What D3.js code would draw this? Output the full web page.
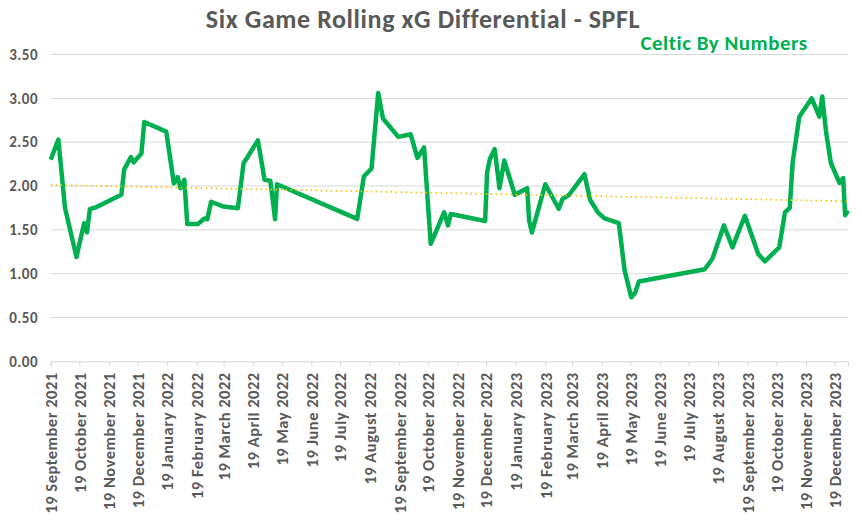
<!DOCTYPE html>
<html>
<head>
<meta charset="utf-8">
<script src="https://cdn.jsdelivr.net/npm/d3@7"></script>
<style>
  body { margin: 0; background: #fff; }
  text { font-family: Carlito, Calibri, Lato, "Open Sans", sans-serif; }
</style>
</head>
<body>
<div id="chart"></div>
<script>
// Match dates and six game rolling xG differential
const dates = ["2021-09-19","2021-09-27","2021-10-04","2021-10-16","2021-10-24","2021-10-27","2021-10-30","2021-11-06","2021-12-02","2021-12-05",
  "2021-12-12","2021-12-15","2021-12-23","2021-12-26","2022-01-18","2022-01-26","2022-01-30","2022-02-02","2022-02-06","2022-02-09",
  "2022-02-20","2022-02-27","2022-03-02","2022-03-06","2022-03-19","2022-04-03","2022-04-09","2022-04-24","2022-05-01","2022-05-07",
  "2022-05-12","2022-05-14","2022-08-06","2022-08-13","2022-08-21","2022-08-28","2022-09-02","2022-09-18","2022-10-01","2022-10-08",
  "2022-10-15","2022-10-22","2022-11-05","2022-11-09","2022-11-12","2022-12-18","2022-12-20","2022-12-23","2022-12-28","2023-01-02",
  "2023-01-07","2023-01-18","2023-01-31","2023-02-02","2023-02-05","2023-02-19","2023-03-05","2023-03-09","2023-03-16","2023-04-01",
  "2023-04-07","2023-04-15","2023-04-22","2023-05-07","2023-05-13","2023-05-20","2023-05-24","2023-05-28","2023-08-05","2023-08-13",
  "2023-08-25","2023-09-03","2023-09-16","2023-09-30","2023-10-07","2023-10-22","2023-10-28","2023-11-02","2023-11-05","2023-11-12",
  "2023-11-25","2023-12-03","2023-12-06","2023-12-10","2023-12-15","2023-12-24","2023-12-28","2023-12-30","2024-01-02"];
const xgDiff = [2.30,2.53,1.75,1.19,1.575,1.47,1.735,1.76,1.90,2.19,
  2.33,2.27,2.37,2.73,2.62,2.03,2.10,1.975,2.07,1.565,
  1.565,1.63,1.62,1.82,1.765,1.745,2.26,2.52,2.07,2.06,
  1.62,2.02,1.625,2.11,2.20,3.06,2.77,2.56,2.59,2.32,
  2.44,1.34,1.70,1.55,1.68,1.60,2.15,2.31,2.42,1.975,
  2.29,1.90,1.975,1.61,1.47,2.02,1.74,1.85,1.90,2.135,
  1.84,1.70,1.63,1.575,1.04,0.73,0.78,0.91,1.05,1.17,
  1.55,1.30,1.66,1.225,1.14,1.30,1.70,1.75,2.265,2.79,
  3.00,2.79,3.02,2.62,2.265,2.035,2.09,1.665,1.72];
const yTicks = [0, 0.5, 1, 1.5, 2, 2.5, 3, 3.5];
const firstTick = "2021-09-19";
const tickCount = 28;

const parse = d3.timeParse("%Y-%m-%d");
const data = dates.map((d, i) => ({date: parse(d), value: xgDiff[i]}));

const W = 862, H = 520;
const margin = {top: 54.5, right: 14, bottom: 158.7, left: 50.7};

const svg = d3.select("#chart").append("svg")
    .attr("width", W)
    .attr("height", H);

svg.append("rect").attr("width", W).attr("height", H).attr("fill", "#fff");

const x = d3.scaleTime()
    .domain(d3.extent(data, d => d.date))
    .range([margin.left, W - margin.right]);
const y = d3.scaleLinear()
    .domain([0, 3.5])
    .range([H - margin.bottom, margin.top]);

// gridlines
svg.append("g")
  .selectAll("line")
  .data(yTicks.slice(1))
  .join("line")
    .attr("x1", x.range()[0]).attr("x2", x.range()[1])
    .attr("y1", d => y(d)).attr("y2", d => y(d))
    .attr("stroke", "#d9d9d9").attr("stroke-width", 1);

// y labels
svg.append("g")
  .selectAll("text")
  .data(yTicks)
  .join("text")
    .attr("x", 38)
    .attr("y", d => y(d))
    .attr("dy", "0.35em")
    .attr("text-anchor", "end")
    .style("font-size", "15px")
    .style("letter-spacing", "0.5px")
    .style("font-weight", "bold")
    .style("fill", "#595959")
    .text(d => d.toFixed(2));

// x axis
const tickDates = d3.range(tickCount).map(i => d3.timeMonth.offset(parse(firstTick), i));
const xAxis = svg.append("g")
    .attr("transform", `translate(0,${y(0)})`)
    .call(d3.axisBottom(x)
      .tickValues(tickDates)
      .tickSize(5)
      .tickFormat(d3.timeFormat("%-d %B %Y")));
xAxis.select(".domain").attr("stroke", "#d9d9d9");
xAxis.selectAll(".tick line").attr("stroke", "#d9d9d9");
xAxis.selectAll(".tick text")
    .attr("transform", "rotate(-90)")
    .attr("x", -11)
    .attr("y", 0)
    .attr("dy", "0.35em")
    .attr("text-anchor", "end")
    .style("font-family", "Carlito, Calibri, Lato, sans-serif")
    .style("font-size", "16.5px")
    .style("letter-spacing", "0.5px")
    .style("font-weight", "bold")
    .style("fill", "#595959");

// linear trendline (least squares over the series)
const xs = data.map(d => +d.date), ys = data.map(d => d.value);
const mx = d3.mean(xs), my = d3.mean(ys);
const slope = d3.sum(xs, (v, i) => (v - mx) * (ys[i] - my)) / d3.sum(xs, v => (v - mx) * (v - mx));
const trend = x.domain().map(d => ({date: d, value: my + slope * (+d - mx)}));

// series line
svg.append("path")
    .datum(data)
    .attr("fill", "none")
    .attr("stroke", "#00b050")
    .attr("stroke-width", 4.5)
    .attr("stroke-linejoin", "round")
    .attr("d", d3.line().x(d => x(d.date)).y(d => y(d.value)));

svg.append("path")
    .datum(trend)
    .attr("fill", "none")
    .attr("stroke", "#ffc000")
    .attr("stroke-width", 1.75)
    .attr("stroke-dasharray", "1.5 3.5")
    .attr("d", d3.line().x(d => x(d.date)).y(d => y(d.value)));

// title
svg.append("text")
    .attr("x", 423)
    .attr("y", 28)
    .attr("text-anchor", "middle")
    .style("font-size", "26px")
    .style("letter-spacing", "0.6px")
    .style("font-weight", "bold")
    .style("fill", "#595959")
    .text("Six Game Rolling xG Differential - SPFL");

svg.append("text")
    .attr("x", 724)
    .attr("y", 50)
    .attr("text-anchor", "middle")
    .style("font-size", "21px")
    .style("letter-spacing", "0.5px")
    .style("font-weight", "bold")
    .style("fill", "#00b050")
    .text("Celtic By Numbers");
</script>
</body>
</html>
